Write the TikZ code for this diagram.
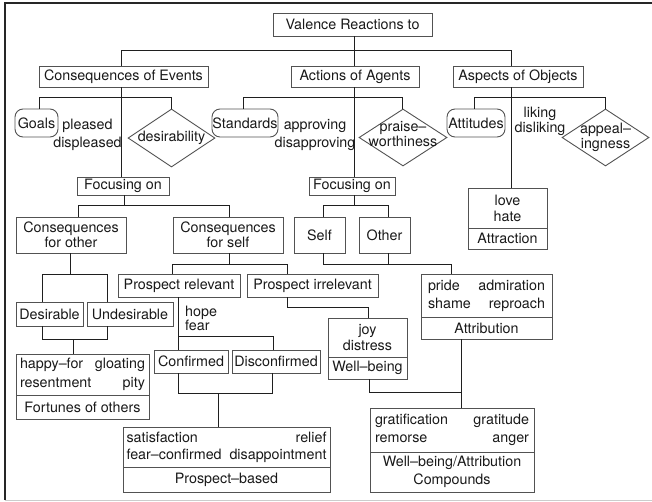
\documentclass[tikz,border=0pt]{standalone}
\usepackage{fontspec}
\setmainfont{TeX Gyre Heros}
\usetikzlibrary{shapes.geometric}
\definecolor{boxc}{gray}{0.32}
\definecolor{cnc}{gray}{0.12}
\definecolor{txc}{gray}{0.1}
\begin{document}
\begin{tikzpicture}[x=1pt,y=-1pt,
  every node/.style={inner sep=0pt, text=txc, font=\fontsize{14.3}{16}\selectfont},
  bx/.style={draw=boxc, line width=0.9pt, rectangle, align=center},
  rbx/.style={draw=boxc, line width=0.9pt, rectangle, rounded corners=8pt},
  dia/.style={draw=boxc, line width=0.9pt, diamond},
  lbl/.style={align=center},
  fs/.style={font=\fontsize{14.3}{#1}\selectfont},
  cn/.style={draw=cnc, line width=0.9pt}
]
\useasboundingbox (0,0) rectangle (652,501);
% frame
\draw[line width=1.1pt, black!85] (5,500) -- (5,3) -- (652,3);
\draw[line width=0.8pt, black!20] (5,500) -- (652,500);

% level 0/1
\node[bx, minimum width=159, minimum height=23] (vr) at (352.5,24.5) {Valence Reactions to};
\node[bx, minimum width=169, minimum height=21] (ce) at (123.5,76.5) {Consequences of Events};
\node[bx, minimum width=128, minimum height=21] (aa) at (355,76.5) {Actions of Agents};
\node[bx, minimum width=130, minimum height=21] (ao) at (518,76.5) {Aspects of Objects};

% level 2
\node[rbx, minimum width=43, minimum height=28] (goals) at (36.5,123) {Goals};
\node[lbl, fs=18] (pl) at (87.5,135) {pleased\\displeased};
\node[dia, minimum width=87, minimum height=58] (dsr) at (171.5,138) {};
\node (dsrt) at (171.5,138) {desirability};

\node[rbx, minimum width=66, minimum height=28] (std) at (245,123) {Standards};
\node[lbl, fs=18] (ap) at (315,135) {approving\\disapproving};
\node[dia, minimum width=88, minimum height=57] (pw) at (403,137.5) {};
\node[lbl, fs=15] (pwt) at (403,134.5) {praise–\\worthiness};

\node[rbx, minimum width=58, minimum height=28] (att) at (476,123) {Attitudes};
\node[lbl, fs=15] (lk) at (540,121.5) {liking\\disliking};
\node[dia, minimum width=87, minimum height=57] (apl) at (605.5,137.5) {};
\node[lbl, fs=15] (aplt) at (605.5,137.5) {appeal–\\ingness};

% focusing
\node[bx, minimum width=92, minimum height=18] (foc1) at (123,186) {Focusing on};
\node[bx, minimum width=86, minimum height=18] (foc2) at (352,186) {Focusing on};

% attraction
\node[bx, fs=16, minimum width=79, minimum height=40] (lvtA) at (507.5,208) {love\\hate};
\node[bx, minimum width=79, minimum height=21] (lvtB) at (507.5,238.5) {Attraction};

% level 3
\node[bx, fs=15, minimum width=110, minimum height=36] (cfo) at (71,235) {Consequences\\for other};
\node[bx, fs=15, minimum width=110, minimum height=36] (cfs) at (228,235) {Consequences\\for self};
\node[bx, minimum width=51, minimum height=36] (self) at (319.5,235) {Self};
\node[bx, minimum width=51, minimum height=36] (oth) at (384.5,235) {Other};

\node[bx, minimum width=122, minimum height=23] (prr) at (179,285.5) {Prospect relevant};
\node[bx, minimum width=131, minimum height=23] (pir) at (312.5,285.5) {Prospect irrelevant};

% attribution
\node[bx, fs=18, align=left, text width=117, minimum width=131, minimum height=43] (attrA) at (486.5,295.5) {pride\hfill admiration\\shame\hfill reproach};
\node[bx, minimum width=131, minimum height=22] (attrB) at (486.5,328) {Attribution};

% desirable
\node[bx, minimum width=67, minimum height=24] (des) at (49.5,314) {Desirable};
\node[bx, minimum width=86, minimum height=24] (und) at (130,314) {Undesirable};

\node[align=left, fs=14, anchor=west] (hf) at (185,318) {hope\\fear};

\node[bx, minimum width=74, minimum height=23] (conf) at (191,361.5) {Confirmed};
\node[bx, minimum width=88, minimum height=23] (disc) at (276,361.5) {Disconfirmed};

% fortunes of others
\node[bx, fs=19, align=left, text width=125, minimum width=133, minimum height=41] (fortA) at (82.5,374.5) {happy–for\hfill gloating\\resentment\hfill pity};
\node[bx, minimum width=133, minimum height=24] (fortB) at (82.5,407) {Fortunes of others};

% well-being
\node[bx, fs=16, minimum width=79, minimum height=39] (joyA) at (367.5,337.5) {joy\\distress};
\node[bx, minimum width=79, minimum height=22] (joyB) at (367.5,368) {Well–being};

% prospect-based
\node[bx, fs=17, align=left, text width=200, minimum width=207, minimum height=40] (pbA) at (226.5,447) {satisfaction\hfill relief\\fear–confirmed\hfill disappointment};
\node[bx, minimum width=207, minimum height=25] (pbB) at (226.5,479.5) {Prospect–based};

% compounds
\node[bx, fs=18, align=left, text width=154, minimum width=164, minimum height=44] (wbaA) at (452,430) {gratification\hfill gratitude\\remorse\hfill anger};
\node[bx, fs=18, minimum width=164, minimum height=40] (wbaB) at (452,472) {Well–being/Attribution\\Compounds};

% connectors
\draw[cn] ([xshift=-2.5]ce.north) -- ++(0,-15) -| ([xshift=-7]ao.north);
\draw[cn] ([xshift=1.5]vr.south) -- ([xshift=-1]aa.north);

\draw[cn] ([xshift=-2.5]ce.south) -- ([xshift=-2]foc1.north);
\draw[cn] ([xshift=2.5]goals.north) -- ++(0,-11) -| (dsr.north);

\draw[cn] ([xshift=-1]aa.south) -- ([xshift=2]foc2.north);
\draw[cn] ([xshift=-2]std.north) -- ++(0,-11) -| ([xshift=-1]pw.north);

\draw[cn] ([xshift=-7]ao.south) -- ([xshift=3.5]lvtA.north);
\draw[cn] ([xshift=-2]att.north) -- ++(0,-11) -| ([xshift=-0.5]apl.north);

\draw[cn] ([xshift=1]foc1.south) -- ++(0,11);
\draw[cn] ([xshift=7]cfo.north) -- ++(0,-11) -| ([xshift=1]cfs.north);

\draw[cn] ([xshift=2]foc2.south) -- ++(0,11);
\draw[cn] ([xshift=3.5]self.north) -- ++(0,-11) -| ([xshift=3.5]oth.north);

\draw[cn] ([xshift=3.5]self.south) -- ++(0,11) -| ([xshift=-35.5]attrA.north);
\draw[cn] ([xshift=3.5]oth.south) -- ++(0,11);

\draw[cn] ([xshift=-1]cfo.south) -- ++(0,22);
\draw[cn] ([xshift=-7.5]des.north) -- ++(0,-27) -| ([xshift=-23]und.north);
\draw[cn] ([xshift=-7.5]des.south) -- ++(0,13) -| ([xshift=-23]und.south);
\draw[cn] ([xshift=-9.5]fortA.north) -- ++(0,-15);

\draw[cn] ([xshift=1]cfs.south) -- ++(0,12);
\draw[cn] ([xshift=-7]prr.north) -- ++(0,-9) -| ([xshift=-25.5]pir.north);

\draw[cn] ([xshift=-1]prr.south) -- ([xshift=-13]conf.north);
\draw[cn] ([xshift=-13]conf.north) ++(0,-13) -| ([xshift=-3]disc.north);
\draw[cn] ([xshift=-13]conf.south) -- ++(0,20) -| ([xshift=-4]disc.south);
\draw[cn] ([xshift=-8.5]pbA.north) -- ++(0,-34);

\draw[cn] ([xshift=-25.5]pir.south) -- ++(0,10) -| ([xshift=0.5]joyA.north);
\draw[cn] ([xshift=1.5]joyB.south) -- ++(0,13) -| ([xshift=9]wbaA.north);
\draw[cn] ([xshift=-25.5]attrB.south) -- ([xshift=9]wbaA.north);
\end{tikzpicture}
\end{document}
